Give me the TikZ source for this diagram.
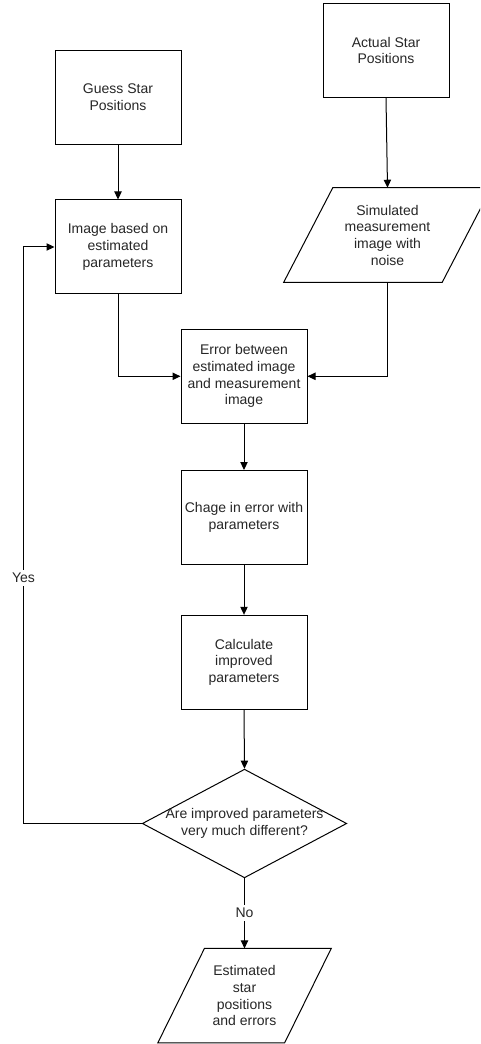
\documentclass[tikz,border=0pt]{standalone}
\usepackage{fontspec}
\setmainfont{Liberation Sans}
\usetikzlibrary{shapes.geometric,arrows.meta}
\begin{document}
\begin{tikzpicture}[x=0.75pt,y=-0.75pt,
  every node/.style={font=\fontsize{10.5pt}{12.5pt}\selectfont, text=black!85, align=center},
  box/.style={draw, rectangle, line width=0.75pt, inner sep=0pt, minimum width=94.5pt, minimum height=70.5pt},
  io/.style={rectangle, inner sep=0pt, minimum height=70.5pt},
  decision/.style={draw, diamond, line width=0.75pt, inner sep=0pt, minimum width=153.3pt, minimum height=81.5pt},
  link/.style={line width=0.75pt, -{Triangle[length=6pt,width=5.5pt]}},
  plain/.style={line width=0.75pt},
  lbl/.style={fill=white, inner sep=2pt}]
\useasboundingbox (0,0) rectangle (480,1044);
\clip (0,0) rectangle (480,1044);

\node[box] (guess) at (118,97.5) {Guess Star\\Positions};
\node[box] (actual) at (386,50.5) {Actual Star\\Positions};
\node[box] (img) at (118,247) {Image based on\\estimated\\parameters};
\node[io, minimum width=118.5pt] (sim) at (387.5,235) {Simulated\\measurement\\image with\\noise};
\draw[plain] ([xshift=18.4pt]sim.north west) -- ([xshift=18.4pt]sim.north east)
  -- ([xshift=-18.4pt]sim.south east) -- ([xshift=-18.4pt]sim.south west) -- cycle;
\node[box] (err) at (244,376.3) {Error between\\estimated image\\and measurement\\image};
\node[box] (chage) at (244,517.5) {Chage in error with\\parameters};
\node[box] (calc) at (244,662.3) {Calculate\\improved\\parameters};
\node[decision] (dec) at (244.5,823.5) {};
\node (dect) at (dec.center) {Are improved parameters\\very much different?};
\node[io, minimum width=94.7pt] (final) at (244.5,995.7) {Estimated\\star\\positions\\and errors};
\draw[plain] ([xshift=17.5pt]final.north west) -- ([xshift=17.5pt]final.north east)
  -- ([xshift=-17.5pt]final.south east) -- ([xshift=-17.5pt]final.south west) -- cycle;

\coordinate (ycorner) at (23.3,823.5);

\draw[link] (guess.south) -- (img.north);
\draw[link] (actual.south) -- (sim.north);
\draw[link] (img.south) |- (err.west);
\draw[link] (sim.south) |- (err.east);
\draw[link] (err.south) -- (chage.north);
\draw[link] (chage.south) -- (calc.north);
\draw[link] (calc.south) -- (dec.north);
\draw[link] (dec.west) -- (ycorner) |- (img.west);
\draw[link] (dec.south) -- (final.north);
\node[lbl] (yes) at (23.5,578) {Yes};
\node[lbl] (no) at (244.5,913) {No};
\end{tikzpicture}
\end{document}
